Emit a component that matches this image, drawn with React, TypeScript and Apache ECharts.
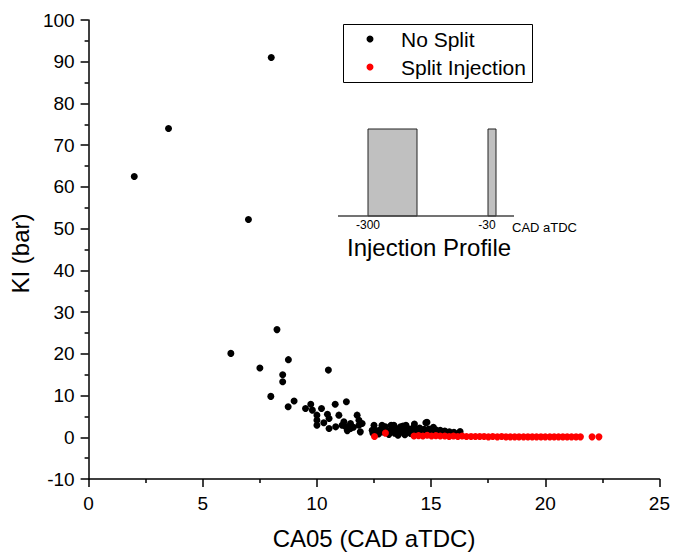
import React, { useEffect, useRef } from "react";
import * as echarts from "echarts";

const xTicks = [0, 5, 10, 15, 20, 25];
const yTicks = [-10, 0, 10, 20, 30, 40, 50, 60, 70, 80, 90, 100];

// No Split: [CA05, KI]
const noSplit: number[][] = [
  [2.0, 62.5], [3.5, 74.0], [8.0, 91.0], [7.0, 52.2], [8.25, 25.8], [6.23, 20.1],
  [7.5, 16.6], [8.75, 18.6], [8.5, 15.0], [8.5, 13.3], [10.5, 16.1], [7.98, 9.8],
  [9.0, 8.7], [8.74, 7.3], [9.73, 7.9], [9.5, 6.9], [9.8, 6.5], [10.2, 6.9],
  [10.8, 7.9], [11.29, 8.5], [10.0, 5.3], [10.0, 4.1], [10.46, 5.5], [10.53, 4.5],
  [10.0, 2.9], [10.3, 3.5], [10.96, 5.3], [10.53, 2.1], [10.82, 2.5], [11.18, 3.7],
  [11.26, 2.5], [11.33, 1.6], [11.47, 3.3], [11.47, 2.1], [11.76, 5.3], [11.84, 4.1],
  [11.84, 2.9], [11.9, 1.3], [11.6, 2.4], [11.1, 2.9], [12.42, 1.7], [11.98, 3.3],
  [12.5, 2.9], [12.85, 2.9], [13.0, 2.5], [13.25, 2.9], [13.37, 2.9], [13.66, 2.5],
  [13.77, 2.7], [13.9, 2.9], [14.25, 2.5], [14.27, 3.2], [14.77, 3.5], [14.82, 3.6],
  [15.1, 2.4], [16.27, 1.35],
  [12.45, 1.0], [12.6, 1.6], [12.7, 0.8], [12.8, 1.9], [12.9, 1.3], [13.05, 1.7],
  [13.15, 0.7], [13.2, 1.5], [13.3, 2.0], [13.4, 1.0], [13.5, 1.6], [13.55, 0.5],
  [13.6, 2.1], [13.7, 1.2], [13.8, 1.8], [13.85, 0.6], [13.95, 1.4], [14.05, 2.0],
  [14.1, 0.9], [14.2, 1.6], [14.35, 1.9], [14.4, 1.1], [14.5, 2.2], [14.55, 1.5],
  [14.65, 0.8], [14.7, 1.9], [14.85, 1.3], [14.9, 2.0], [15.0, 1.6], [15.05, 0.9],
  [15.2, 1.8], [15.3, 1.2], [15.4, 1.7], [15.5, 0.9], [15.6, 1.5], [15.7, 1.1],
  [15.8, 1.3], [15.9, 0.8], [16.0, 1.2], [16.1, 0.7],
];

// Split Injection: [CA05, KI]
const splitInjection: number[][] = [
  [12.52, 0.2], [13.0, 1.0],
  [14.25, 0.3], [14.45, 0.4], [14.64, 0.3], [14.83, 0.5], [15.02, 0.3], [15.21, 0.4],
  [15.4, 0.3], [15.6, 0.3], [15.79, 0.2], [15.98, 0.3], [16.17, 0.2], [16.36, 0.3],
  [16.55, 0.2], [16.75, 0.2], [16.94, 0.2], [17.13, 0.2], [17.32, 0.2], [17.51, 0.1],
  [17.7, 0.2], [17.9, 0.1], [18.09, 0.2], [18.28, 0.1], [18.47, 0.1], [18.66, 0.1],
  [18.85, 0.1], [19.05, 0.1], [19.24, 0.1], [19.43, 0.1], [19.62, 0.1], [19.81, 0.1],
  [20.0, 0.1], [20.2, 0.1], [20.39, 0.1], [20.58, 0.1], [20.77, 0.1], [20.96, 0.1],
  [21.15, 0.1], [21.35, 0.1], [21.54, 0.1], [22.05, 0.1], [22.35, 0.1],
];

const FONT = "'Liberation Sans', Arial, sans-serif";

export default function App() {
  const ref = useRef<HTMLDivElement>(null);
  useEffect(() => {
    if (!ref.current) return;
    const chart = echarts.init(ref.current, undefined, { renderer: "svg" });
    chart.setOption({
      animation: false,
      backgroundColor: "#ffffff",
      textStyle: { fontFamily: FONT },
      grid: { left: 86, right: 11, top: 20, bottom: 73, containLabel: false },
      xAxis: {
        type: "value",
        min: xTicks[0],
        max: xTicks[xTicks.length - 1],
        interval: 5,
        name: "CA05 (CAD aTDC)",
        nameLocation: "middle",
        nameGap: 47,
        nameTextStyle: { fontSize: 24, color: "#000", fontFamily: FONT },
        axisLine: { onZero: false, lineStyle: { color: "#000", width: 1.5 } },
        axisTick: { inside: false, length: 8, lineStyle: { color: "#000", width: 1.5 } },
        minorTick: { show: true, splitNumber: 2, length: 4, lineStyle: { color: "#000", width: 1.5 } },
        axisLabel: { fontSize: 19, color: "#000", margin: 15, fontFamily: FONT },
        splitLine: { show: false },
      },
      yAxis: {
        type: "value",
        min: yTicks[0],
        max: yTicks[yTicks.length - 1],
        interval: 10,
        name: "KI (bar)",
        nameLocation: "middle",
        nameGap: 56,
        nameTextStyle: { fontSize: 24, color: "#000", fontFamily: FONT, padding: [0, 8, 0, 0] },
        axisLine: { onZero: false, lineStyle: { color: "#000", width: 1.5 } },
        axisTick: { inside: false, length: 8, lineStyle: { color: "#000", width: 1.5 } },
        minorTick: { show: true, splitNumber: 2, length: 4, lineStyle: { color: "#000", width: 1.5 } },
        axisLabel: { fontSize: 19, color: "#000", margin: 14, fontFamily: FONT },
        splitLine: { show: false },
      },
      series: [
        {
          name: "No Split",
          type: "scatter",
          data: noSplit,
          symbol: "circle",
          symbolSize: 7,
          itemStyle: { color: "#000000", opacity: 1 },
          z: 2,
        },
        {
          name: "Split Injection",
          type: "scatter",
          data: splitInjection,
          symbol: "circle",
          symbolSize: 7,
          itemStyle: { color: "#ff0000", opacity: 1 },
          z: 3,
        },
      ],
      graphic: [
        // legend box
        { type: "rect", left: 343, top: 24, shape: { width: 189, height: 58 }, style: { fill: "#fff", stroke: "#000", lineWidth: 1 }, z: 10 },
        { type: "circle", shape: { cx: 370, cy: 39, r: 3.5 }, style: { fill: "#000" }, z: 11 },
        { type: "circle", shape: { cx: 370, cy: 67, r: 3.5 }, style: { fill: "#ff0000" }, z: 11 },
        { type: "text", x: 401, y: 39, style: { text: "No Split", fontSize: 21, fontFamily: FONT, fill: "#000", verticalAlign: "middle" }, z: 11 },
        { type: "text", x: 401, y: 67, style: { text: "Split Injection", fontSize: 21, fontFamily: FONT, fill: "#000", verticalAlign: "middle" }, z: 11 },
        // injection profile inset
        { type: "rect", shape: { x: 368, y: 129, width: 49, height: 87 }, style: { fill: "#c0c0c0", stroke: "#222", lineWidth: 1 }, z: 10 },
        { type: "rect", shape: { x: 488, y: 129, width: 8, height: 87 }, style: { fill: "#c0c0c0", stroke: "#222", lineWidth: 1 }, z: 10 },
        { type: "line", shape: { x1: 338, y1: 216, x2: 514, y2: 216 }, style: { stroke: "#444", lineWidth: 1.5 }, z: 10 },
        { type: "text", x: 368, y: 225, style: { text: "-300", fontSize: 12, fontFamily: FONT, fill: "#000", align: "center", verticalAlign: "middle" }, z: 10 },
        { type: "text", x: 487, y: 225, style: { text: "-30", fontSize: 12, fontFamily: FONT, fill: "#000", align: "center", verticalAlign: "middle" }, z: 10 },
        { type: "text", x: 512, y: 227, style: { text: "CAD aTDC", fontSize: 13, fontFamily: FONT, fill: "#000", verticalAlign: "middle" }, z: 10 },
        { type: "text", x: 347, y: 247, style: { text: "Injection Profile", fontSize: 24, fontFamily: FONT, fill: "#000", verticalAlign: "middle" }, z: 10 },
      ],
    });
    return () => chart.dispose();
  }, []);
  return (
    <div
      ref={ref}
      style={{ position: "fixed", left: 0, top: 0, width: 673, height: 555, background: "#fff" }}
    />
  );
}
